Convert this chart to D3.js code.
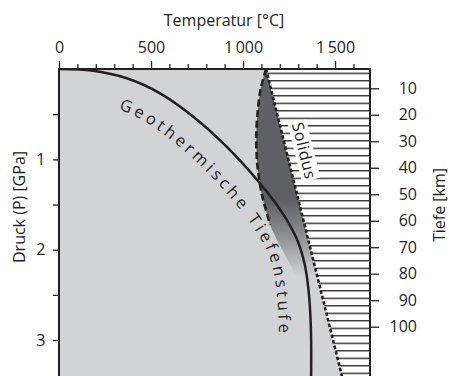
<!DOCTYPE html>
<html>
<head>
<meta charset="utf-8">
<script src="https://cdn.jsdelivr.net/npm/d3@7"></script>
<style>
  body { margin: 0; background: #fff; }
  text { font-family: "Open Sans", sans-serif; fill: #231f20; }
</style>
</head>
<body>
<script>
// temperature axis (top)
const tempMajor = [0, 500, 1000, 1500];
const tempLabels = ['0', '500', '1\u2009000', '1\u2009500'];
const tempMinor = [100, 200, 300, 400, 600, 700, 800, 900, 1100, 1200, 1300, 1400, 1600];
// pressure axis (left)
const pressMajor = [1, 2, 3];
const pressMinor = [0.5, 1.5, 2.5];
// depth axis (right)
const depthTicks = [10, 20, 30, 40, 50, 60, 70, 80, 90, 100];

// geotherm (T in °C, P in GPa)
const geoT = [0, 186, 368, 549, 730, 911, 1092, 1176, 1244, 1299, 1337, 1358, 1369, 1370];
const geoP = [0, 0.02, 0.103, 0.269, 0.528, 0.86, 1.265, 1.483, 1.693, 1.915, 2.18, 2.49, 2.889, 3.42];

// dashed boundary of the melting zone
const meltT = [1125, 1095, 1076, 1072, 1081, 1103, 1128, 1147];
const meltP = [0, 0.232, 0.564, 0.841, 1.118, 1.395, 1.583, 1.727];
// where the shaded zone fades out
const fadeT = [1266, 1293];
const fadeP = [2.2, 2.3];

// solidus
const solT = [1125, 1540];
const solP = [0, 3.42];

const W = 449, H = 376;
const svg = d3.select('body').append('svg').attr('width', W).attr('height', H);

const x = d3.scaleLinear().domain([0, 1690]).range([59, 370]);
const y = d3.scaleLinear().domain([0, 3.42]).range([69, 378]);
const yDepth = d3.scaleLinear().domain([10, 100]).range([88.3, 326.7]);

const ink = '#231f20';
const bg = '#d1d3d4';
const dark = '#5f6063';

const defs = svg.append('defs');
defs.append('clipPath').attr('id', 'plot')
  .append('rect')
  .attr('x', x(0)).attr('y', y(0))
  .attr('width', x(1690) - x(0)).attr('height', y(3.42) - y(0));

const hatch = defs.append('pattern')
  .attr('id', 'hatch')
  .attr('patternUnits', 'userSpaceOnUse')
  .attr('x', 0).attr('y', 73.3 - 0.65)
  .attr('width', 20).attr('height', 7.5);
hatch.append('rect').attr('width', 20).attr('height', 7.5).attr('fill', '#fff');
hatch.append('rect').attr('width', 20).attr('height', 1.3).attr('fill', ink);

const grad = defs.append('linearGradient')
  .attr('id', 'fade')
  .attr('gradientUnits', 'userSpaceOnUse')
  .attr('x1', 0).attr('x2', 0)
  .attr('y1', y(1.45)).attr('y2', y(2.3));
grad.append('stop').attr('offset', 0).attr('stop-color', dark);
grad.append('stop').attr('offset', 0.45).attr('stop-color', '#8c8d90');
grad.append('stop').attr('offset', 1).attr('stop-color', bg);

const plot = svg.append('g').attr('clip-path', 'url(#plot)');

plot.append('rect')
  .attr('x', x(0)).attr('y', y(0))
  .attr('width', x(1690) - x(0)).attr('height', y(3.42) - y(0))
  .attr('fill', bg);

const toPts = (ts, ps) => ts.map((t, i) => [x(t), y(ps[i])]);

// hatched field right of the solidus
const solPts = toPts(solT, solP);
const hatchPts = solPts.concat([[x(1690), y(3.42)], [x(1690), y(0)]]);
plot.append('path')
  .attr('d', 'M' + hatchPts.join('L') + 'Z')
  .attr('fill', 'url(#hatch)');

// shaded melting zone
const meltPts = toPts(meltT, meltP);
const fadePts = toPts(fadeT, fadeP);
const solAt = p => [x(solT[0] + (solT[1] - solT[0]) * p / solP[1]), y(p)];
const zoneEdge = d3.line().curve(d3.curveCatmullRom)(meltPts.concat(fadePts));
plot.append('path')
  .attr('d', zoneEdge + 'L' + solAt(fadeP[fadeP.length - 1]) + 'L' + solAt(0) + 'Z')
  .attr('fill', 'url(#fade)');

// geotherm
const geoPts = toPts(geoT, geoP);
const geoPath = plot.append('path')
  .attr('d', d3.line().curve(d3.curveCatmullRom)(geoPts))
  .attr('fill', 'none')
  .attr('stroke', ink)
  .attr('stroke-width', 2.5);

// dashed melt boundary
plot.append('path')
  .attr('d', d3.line().curve(d3.curveCatmullRom)(meltPts))
  .attr('fill', 'none')
  .attr('stroke', ink)
  .attr('stroke-width', 2.6)
  .attr('stroke-dasharray', '7,3.5');

// solidus
plot.append('path')
  .attr('d', d3.line()(solPts))
  .attr('fill', 'none')
  .attr('stroke', ink)
  .attr('stroke-width', 2.6)
  .attr('stroke-dasharray', '3.5,2.2');

// Solidus label
const sa = solAt(0.95);
const ang = Math.atan2(solPts[1][1] - solPts[0][1], solPts[1][0] - solPts[0][0]);
const off = 17.5;
const sg = plot.append('g')
  .attr('transform', `translate(${sa[0] + Math.sin(ang) * off},${sa[1] - Math.cos(ang) * off}) rotate(${ang * 180 / Math.PI})`);
const sRect = sg.append('rect').attr('fill', '#fff');
const sText = sg.append('text')
  .attr('text-anchor', 'middle')
  .attr('dy', '0.36em')
  .style('font-size', '16px')
  .style('letter-spacing', '0.6px')
  .text('Solidus');
const bb = sText.node().getBBox();
sRect.attr('x', bb.x - 1).attr('y', bb.y + 2).attr('width', bb.width + 2).attr('height', bb.height - 3);

// geotherm label on an inner offset of the curve
const gNode = geoPath.node();
const gLen = gNode.getTotalLength();
const labelOff = 32;
const offPts = [];
for (let s = 1; s < gLen - 1; s += 2) {
  const a = gNode.getPointAtLength(s - 1), b = gNode.getPointAtLength(s + 1), p = gNode.getPointAtLength(s);
  const dx = b.x - a.x, dy = b.y - a.y, n = Math.hypot(dx, dy);
  offPts.push([p.x - dy / n * labelOff, p.y + dx / n * labelOff]);
}
defs.append('path').attr('id', 'geoLabel').attr('d', d3.line().curve(d3.curveBasis)(offPts));
let start = 0;
for (let i = 1; i < offPts.length; i++) {
  start += Math.hypot(offPts[i][0] - offPts[i - 1][0], offPts[i][1] - offPts[i - 1][1]);
  if (offPts[i][0] >= 117) break;
}
plot.append('text')
  .style('font-size', '16.5px')
  .style('letter-spacing', '3.5px')
  .append('textPath')
  .attr('href', '#geoLabel')
  .attr('startOffset', start)
  .text('Geothermische Tiefenstufe');

// frame
svg.append('rect')
  .attr('x', x(0)).attr('y', y(0))
  .attr('width', x(1690) - x(0)).attr('height', y(3.42) - y(0))
  .attr('fill', 'none')
  .attr('stroke', ink)
  .attr('stroke-width', 2);

// axes
function styleAxis(g) {
  g.select('.domain').remove();
  g.selectAll('line').attr('stroke', ink).attr('stroke-width', 1.3);
  g.selectAll('text').style('font-size', '16px').attr('fill', ink);
}

svg.append('g').attr('transform', `translate(0,${y(0)})`)
  .call(d3.axisTop(x).tickValues(tempMinor).tickSize(5).tickFormat(''))
  .call(styleAxis);
svg.append('g').attr('transform', `translate(0,${y(0)})`)
  .call(d3.axisTop(x).tickValues(tempMajor).tickSize(8).tickPadding(8)
    .tickFormat((d, i) => tempLabels[i]))
  .call(styleAxis);

svg.append('g').attr('transform', `translate(${x(0)},0)`)
  .call(d3.axisLeft(y).tickValues(pressMinor).tickSize(6).tickFormat(''))
  .call(styleAxis);
svg.append('g').attr('transform', `translate(${x(0)},0)`)
  .call(d3.axisLeft(y).tickValues(pressMajor).tickSize(6).tickPadding(7.5).tickFormat(d3.format('d')))
  .call(styleAxis);

const rAxis = svg.append('g').attr('transform', `translate(${x(1690)},0)`)
  .call(d3.axisRight(yDepth).tickValues(depthTicks).tickSize(9).tickFormat(d3.format('d')))
  .call(styleAxis);
rAxis.selectAll('text').attr('text-anchor', 'end').attr('x', 47);

// titles
svg.append('text')
  .attr('x', 224).attr('y', 26)
  .attr('text-anchor', 'middle')
  .style('font-size', '16px')
  .text('Temperatur [°C]');
svg.append('text')
  .attr('transform', 'translate(25,207) rotate(-90)')
  .attr('text-anchor', 'middle')
  .style('font-size', '16px')
  .text('Druck (P) [GPa]');
svg.append('text')
  .attr('transform', 'translate(445,205) rotate(-90)')
  .attr('text-anchor', 'middle')
  .style('font-size', '16px')
  .text('Tiefe [km]');
</script>
</body>
</html>
